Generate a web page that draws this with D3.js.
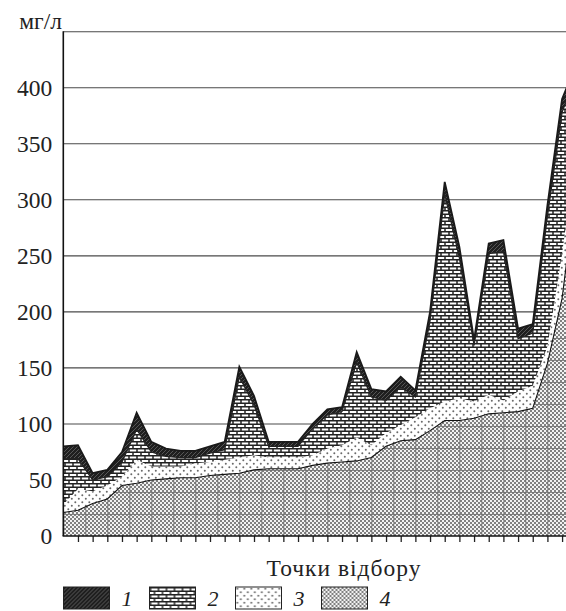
<!DOCTYPE html>
<html>
<head>
<meta charset="utf-8">
<script src="https://cdn.jsdelivr.net/npm/d3@7"></script>
<style>
  html, body { margin: 0; padding: 0; background: #fff; }
  svg { display: block; }
  svg text { font-family: "Liberation Serif", "DejaVu Serif", serif; fill: #222; }
</style>
</head>
<body>
<script>
// sampling points 0..35 (last one lies just past the cropped right edge)
const points = d3.range(0, 36);

// layer thicknesses, mg/l (bottom to top: 4, 3, 2, 1)
const layer4 = [21, 23, 29, 33, 45, 47, 50, 51, 52, 52, 54, 55, 56, 59, 60, 60, 60, 63,
                65, 66, 67, 70, 80, 85, 86, 94, 103, 103, 105, 109, 110, 111, 114, 154, 212, 317];
const layer3 = [7, 19, 11, 12, 8, 21, 12, 11, 10, 13, 12, 13, 14, 13, 10, 10, 10, 9,
                13, 15, 21, 11, 12, 14, 20, 20, 17, 20, 15, 17, 11, 18, 20, 15, 40, 31];
const layer2 = [41, 27, 10, 8, 13, 27, 13, 9, 8, 5, 8, 9, 72, 45, 10, 10, 10, 24,
                30, 30, 67, 43, 29, 34, 18, 78, 185, 125, 50, 126, 133, 47, 47, 116, 126, 65];
const layer1 = [11, 12, 6, 6, 9, 15, 9, 7, 6, 6, 6, 7, 9, 8, 4, 4, 4, 4,
                5, 4, 9, 7, 8, 9, 6, 8, 11, 10, 5, 9, 10, 9, 8, 10, 12, 9];

const yTicks = [0, 50, 100, 150, 200, 250, 300, 350, 400];
const gridValues = [50, 100, 150, 200, 250, 300, 350, 400, 450];
const legendLabels = ['1', '2', '3', '4'];

const W = 566, H = 611;
const m = { left: 63.3, top: 31.7, bottom: 536, right: 566 };
const serif = '"Liberation Serif", "DejaVu Serif", serif';

const svg = d3.select('body').append('svg')
  .attr('width', W)
  .attr('height', H);

const defs = svg.append('defs');

// 1: dark, diagonal hatching
const p1 = defs.append('pattern').attr('id', 'p1')
  .attr('patternUnits', 'userSpaceOnUse').attr('width', 4).attr('height', 4);
p1.append('rect').attr('width', 4).attr('height', 4).attr('fill', '#1f1f1f');
p1.append('path').attr('d', 'M-1,1 L1,-1 M0,4 L4,0 M3,5 L5,3')
  .attr('stroke', '#5c5c5c').attr('stroke-width', 0.9);

// 2: bricks
const p2 = defs.append('pattern').attr('id', 'p2')
  .attr('patternUnits', 'userSpaceOnUse').attr('width', 8).attr('height', 7);
p2.append('rect').attr('width', 8).attr('height', 7).attr('fill', '#fff');
p2.append('path').attr('d', 'M0,0.7 H8 M0,4.2 H8 M1,0.7 V4.2 M5,4.2 V7')
  .attr('stroke', '#222').attr('stroke-width', 1.5);

// 3: sparse dots
const p3 = defs.append('pattern').attr('id', 'p3')
  .attr('patternUnits', 'userSpaceOnUse').attr('width', 7).attr('height', 7);
p3.append('rect').attr('width', 7).attr('height', 7).attr('fill', '#fff');
p3.append('circle').attr('cx', 1.8).attr('cy', 1.8).attr('r', 1).attr('fill', '#6a6a6a');
p3.append('circle').attr('cx', 5.3).attr('cy', 5.3).attr('r', 1).attr('fill', '#6a6a6a');

// 4: fine checker with a coarse faint grid
const p4 = defs.append('pattern').attr('id', 'p4')
  .attr('patternUnits', 'userSpaceOnUse').attr('width', 4).attr('height', 4);
p4.append('rect').attr('width', 4).attr('height', 4).attr('fill', '#f2f2f2');
p4.append('rect').attr('width', 2).attr('height', 2).attr('fill', '#808080');
p4.append('rect').attr('x', 2).attr('y', 2).attr('width', 2).attr('height', 2).attr('fill', '#808080');

const p4g = defs.append('pattern').attr('id', 'p4g')
  .attr('patternUnits', 'userSpaceOnUse').attr('width', 22).attr('height', 22)
  .attr('x', m.left).attr('y', m.bottom);
p4g.append('path').attr('d', 'M0.5,0 V22 M0,0.5 H22')
  .attr('stroke', '#6e6e6e').attr('stroke-width', 0.8).attr('fill', 'none');

defs.append('clipPath').attr('id', 'plotClip')
  .append('rect')
  .attr('x', m.left).attr('y', m.top)
  .attr('width', m.right - m.left).attr('height', m.bottom - m.top);

const x = d3.scaleLinear()
  .domain([0, 35])
  .range([m.left, m.left + 14.67 * 35]);

const y = d3.scaleLinear()
  .domain([0, 450])
  .range([m.bottom, m.top]);

// grid
svg.append('g')
  .selectAll('line')
  .data(gridValues)
  .join('line')
  .attr('x1', m.left).attr('x2', m.right)
  .attr('y1', d => y(d)).attr('y2', d => y(d))
  .attr('stroke', '#4a4a4a')
  .attr('stroke-width', 1.1);

// stacked areas
const rows = points.map((p, i) => ({
  p: p, s4: layer4[i], s3: layer3[i], s2: layer2[i], s1: layer1[i]
}));
const keys = ['s4', 's3', 's2', 's1'];
const stacked = d3.stack().keys(keys)(rows);
const fills = { s4: 'url(#p4)', s3: 'url(#p3)', s2: 'url(#p2)', s1: 'url(#p1)' };

const area = d3.area()
  .x(d => x(d.data.p))
  .y0(d => y(d[0]))
  .y1(d => y(d[1]));

const topLine = d3.line()
  .x(d => x(d.data.p))
  .y(d => y(d[1]));

const plot = svg.append('g').attr('clip-path', 'url(#plotClip)');

plot.selectAll('path.layer')
  .data(stacked)
  .join('path')
  .attr('class', 'layer')
  .attr('d', area)
  .attr('fill', d => fills[d.key]);

plot.append('path')
  .attr('d', area(stacked[0]))
  .attr('fill', 'url(#p4g)');

// boundary lines
plot.append('path')
  .attr('d', topLine(stacked[0]))
  .attr('fill', 'none')
  .attr('stroke', '#111')
  .attr('stroke-width', 1.1);

plot.append('path')
  .attr('d', topLine(stacked[2]))
  .attr('fill', 'none')
  .attr('stroke', '#222')
  .attr('stroke-width', 1.2);

plot.append('path')
  .attr('d', topLine(stacked[3]))
  .attr('fill', 'none')
  .attr('stroke', '#1a1a1a')
  .attr('stroke-width', 1.8);

// axes
svg.append('g')
  .attr('transform', `translate(0,${m.bottom})`)
  .call(d3.axisBottom(x).tickValues(d3.range(1, 35)).tickSize(6).tickFormat(''))
  .call(g => g.select('.domain').remove())
  .call(g => g.selectAll('.tick line').attr('stroke', '#222').attr('stroke-width', 1.3));

svg.append('line')
  .attr('x1', m.left - 0.7).attr('x2', m.right)
  .attr('y1', m.bottom).attr('y2', m.bottom)
  .attr('stroke', '#111').attr('stroke-width', 1.6);

svg.append('line')
  .attr('x1', m.left).attr('x2', m.left)
  .attr('y1', m.top - 0.5).attr('y2', m.bottom)
  .attr('stroke', '#111').attr('stroke-width', 1.6);

svg.append('g')
  .attr('transform', `translate(${m.left},0)`)
  .call(d3.axisLeft(y).tickValues(yTicks).tickSize(0).tickPadding(11))
  .call(g => g.select('.domain').remove())
  .call(g => g.selectAll('.tick text')
    .style('font-family', serif)
    .style('font-size', '23.5px')
    .style('fill', '#222'));

svg.append('text')
  .attr('x', 62).attr('y', 29)
  .attr('text-anchor', 'end')
  .style('font-family', serif)
  .style('font-size', '23.5px')
  .text('мг/л');

svg.append('text')
  .attr('x', 344).attr('y', 576)
  .attr('text-anchor', 'middle')
  .style('font-family', serif)
  .style('font-size', '23.5px')
  .style('letter-spacing', '1px')
  .text('Точки відбору');

// legend
const legendFills = ['url(#p1)', 'url(#p2)', 'url(#p3)', 'url(#p4)'];
const legend = svg.append('g');
const items = legend.selectAll('g')
  .data(legendLabels)
  .join('g')
  .attr('transform', (d, i) => `translate(${63.5 + i * 86},587)`);

items.append('rect')
  .attr('width', 46).attr('height', 22)
  .attr('fill', (d, i) => legendFills[i])
  .attr('stroke', '#222').attr('stroke-width', 1);

items.append('text')
  .attr('x', 58).attr('y', 19)
  .style('font-family', serif)
  .style('font-size', '22px')
  .style('font-style', 'italic')
  .text(d => d);
</script>
</body>
</html>
